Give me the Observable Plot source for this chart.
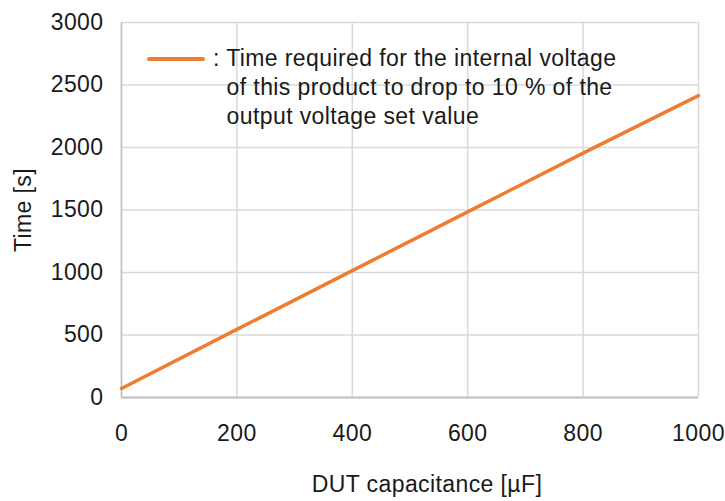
<!DOCTYPE html>
<html>
<head>
<meta charset="utf-8">
<script src="https://cdn.jsdelivr.net/npm/d3@7"></script>
<script src="https://cdn.jsdelivr.net/npm/@observablehq/plot@0.6"></script>
<style>
  html, body { margin: 0; padding: 0; background: #fff; }
  #wrap { position: relative; width: 725px; height: 501px; font-family: "Liberation Sans", Arial, sans-serif; }
  #wrap svg text { font-size: 23px; letter-spacing: 0.4px; fill: #1a1a1a; }
  #legend { position: absolute; left: 147px; top: 46px; color: #1a1a1a; font-size: 23px; letter-spacing: 0.4px; line-height: 29px; }
  #legend .sw { position: absolute; left: 0; top: 11px; width: 58px; height: 4px; background: #ED7D31; border-radius: 2px; }
  #legend .tx { position: absolute; left: 66px; top: -2px; white-space: nowrap; }
</style>
</head>
<body>
<div id="wrap"></div>
<script>
const capacitance = [0, 200, 400, 600, 800, 1000];
const timeSeconds = [72, 545, 1015, 1485, 1955, 2415];
const xTicks = [0, 200, 400, 600, 800, 1000];
const yTicks = [0, 500, 1000, 1500, 2000, 2500, 3000];
const xLabel = "DUT capacitance [µF]";
const yLabel = "Time [s]";
const legendLines = [
  ": Time required for the internal voltage",
  "\u00a0\u00a0of this product to drop to 10 % of the",
  "\u00a0\u00a0output voltage set value"
];

const data = capacitance.map((c, i) => ({c, t: timeSeconds[i]}));
const fmt = d => String(d);

const chart = Plot.plot({
  width: 725,
  height: 501,
  marginLeft: 121,
  marginRight: 27,
  marginTop: 22,
  marginBottom: 104,
  style: {fontFamily: "'Liberation Sans', Arial, sans-serif", fontSize: "23px", color: "#1a1a1a", background: "#fff"},
  x: {domain: [0, 1000], ticks: xTicks},
  y: {domain: [0, 3000], ticks: yTicks},
  marks: [
    Plot.gridX(xTicks, {stroke: "#d9d9d9", strokeOpacity: 1, strokeWidth: 1.5}),
    Plot.gridY(yTicks, {stroke: "#d9d9d9", strokeOpacity: 1, strokeWidth: 1.5}),
    Plot.ruleY([0], {stroke: "#bfbfbf", strokeWidth: 2}),
    Plot.ruleX([0], {stroke: "#bfbfbf", strokeWidth: 1.5}),
    Plot.axisX({ticks: xTicks, tickFormat: fmt, tickSize: 0, tickPadding: 27, label: null, fontSize: 23}),
    Plot.text([xLabel], {frameAnchor: "bottom", textAnchor: "middle", lineAnchor: "middle", dx: 17, dy: 87, fontSize: 23, fill: "#1a1a1a"}),
    Plot.axisY({ticks: yTicks, tickFormat: fmt, tickSize: 0, tickPadding: 18, label: yLabel, labelAnchor: "center", labelArrow: "none", labelOffset: 107, fontSize: 23}),
    Plot.line(data, {x: "c", y: "t", stroke: "#ED7D31", strokeWidth: 3.5})
  ]
});

const wrap = document.getElementById("wrap");
wrap.appendChild(chart);
const leg = document.createElement("div");
leg.id = "legend";
leg.innerHTML = '<div class="sw"></div><div class="tx">' + legendLines.join("<br>") + '</div>';
wrap.appendChild(leg);
</script>
</body>
</html>
